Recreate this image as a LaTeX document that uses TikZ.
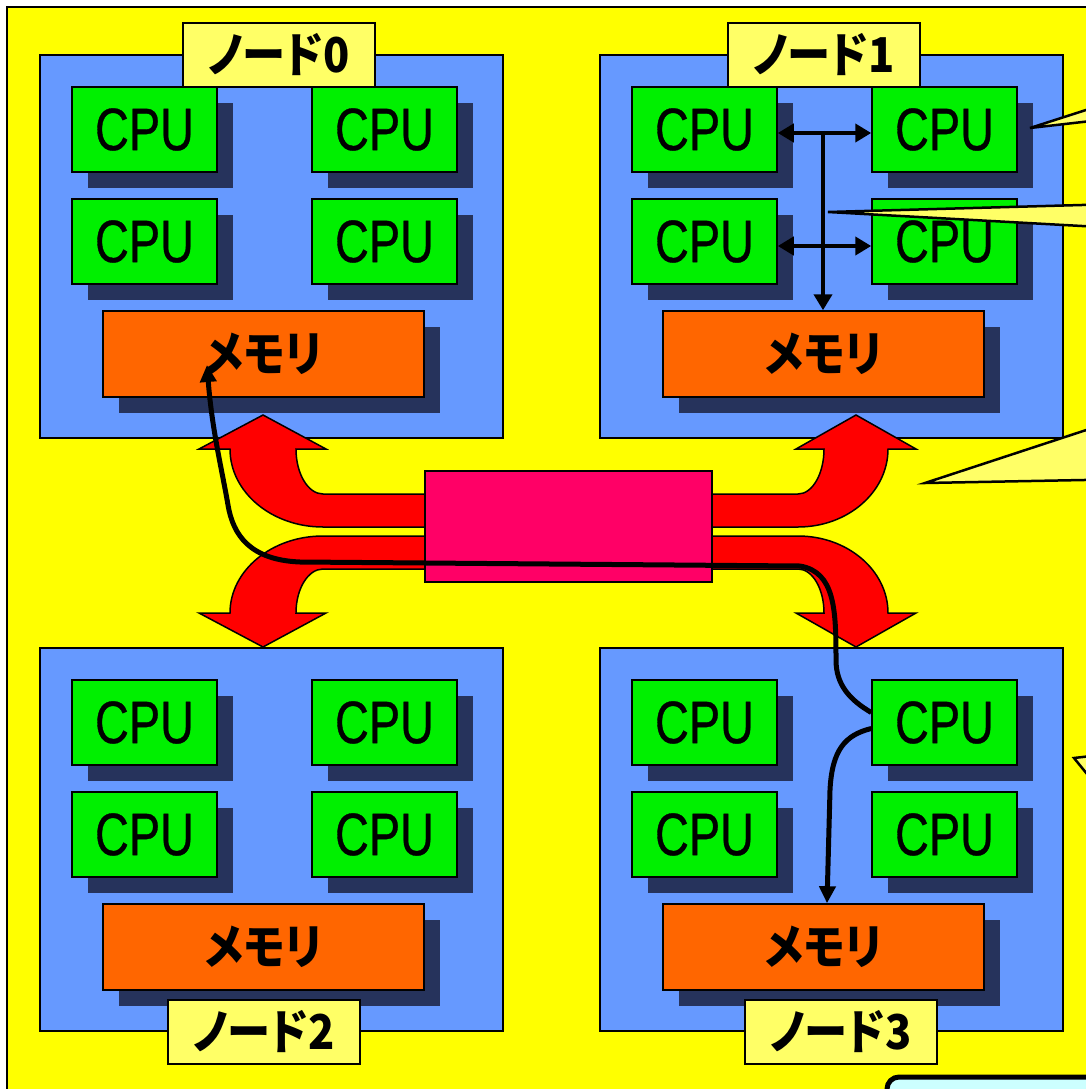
\documentclass[tikz,border=0pt]{standalone}
\usepackage{fontspec}
\newfontfamily\cpufont[FakeStretch=0.78,FakeBold=0.6]{Liberation Sans}
\newfontfamily\jpfont[RawFeature=+palt,FakeStretch=0.9]{Noto Sans CJK JP}
\usetikzlibrary{arrows.meta,calc}
\definecolor{bgyellow}{HTML}{FFFF00}
\definecolor{panelblue}{HTML}{6699FF}
\definecolor{cpugreen}{HTML}{00F000}
\definecolor{memorange}{HTML}{FF6600}
\definecolor{arrowred}{HTML}{FF0000}
\definecolor{hubpink}{HTML}{FF0066}
\definecolor{lightyellow}{HTML}{FFFF66}
\definecolor{shadowblue}{HTML}{26335C}
\definecolor{lightcyan}{HTML}{CCFFFF}
\begin{document}
\begin{tikzpicture}[x=1pt,y=-1pt,
  panel/.style={draw=black,line width=1.5pt,fill=panelblue,minimum width=463pt,minimum height=383pt,inner sep=0pt},
  cpubox/.style={draw=black,line width=1.5pt,fill=cpugreen,minimum width=145pt,minimum height=85pt,inner sep=0pt,font=\cpufont\fontsize{60}{60}\selectfont},
  membox/.style={draw=black,line width=1.5pt,fill=memorange,minimum width=321pt,minimum height=86pt,inner sep=0pt,font=\jpfont\bfseries\fontsize{48}{48}\selectfont},
  dropshade/.style={fill=shadowblue},
  nodelabel/.style={draw=black,line width=1.5pt,fill=lightyellow,minimum width=192pt,minimum height=64pt,inner sep=0pt,font=\jpfont\bfseries\fontsize{48}{48}\selectfont},
  bigarrow/.style={draw=black,line width=1.5pt,fill=arrowred},
  conn/.style={draw=black,line width=5pt},
  busline/.style={draw=black,line width=4.5pt},
  tip/.style={-{Triangle[length=17pt,width=16pt]}},
  bustip/.style={-{Triangle[length=16pt,width=18pt]}},
  callout/.style={draw=black,line width=2.5pt,fill=lightyellow,line join=miter}
]
\useasboundingbox (0,0) rectangle (1086,1089);
\fill[white] (0,0) rectangle (1086,1089);
\draw[fill=bgyellow,draw=black,line width=2pt] (7,7) rectangle (1110,1110);

% four nodes
\foreach \i/\ox/\oy in {0/0/0, 1/560/0, 2/0/593, 3/560/593} {
  \begin{scope}[shift={(\ox,\oy)}]
    \node[panel] (p\i) at (271.5,246.5) {};
    \foreach \j/\cx/\cy in {a/144.5/129.5, b/384.5/129.5, c/144.5/241.5, d/384.5/241.5} {
      \fill[dropshade] (\cx-72.5+16,\cy-42.5+16) rectangle (\cx+72.5+16,\cy+42.5+16);
      \node[cpubox] (c\i\j) at (\cx,\cy) {\raisebox{-3pt}{CPU}};
    }
    \fill[dropshade] (103+16,311+16) rectangle (424+16,397+16);
    \node[membox] (m\i) at (263.5,354) {\raisebox{-2pt}{メモリ}};
  \end{scope}
}

% red arrows
\draw[bigarrow] (440,494) -- (323,494) .. controls (308.1,494) and (296,473.9) .. (296,449)
  -- (326,449) -- (263,415) -- (199,449) -- (230,449)
  .. controls (230,492.1) and (271.6,527) .. (323,527) -- (440,527) -- cycle;
\draw[bigarrow] (440,569) -- (323,569) .. controls (308.1,569) and (296,588.7) .. (296,613)
  -- (326,613) -- (263,647) -- (199,613) -- (230,613)
  .. controls (230,570.5) and (271.6,536) .. (323,536) -- (440,536) -- cycle;
\draw[bigarrow] (700,494) -- (798,494) .. controls (812.4,494) and (824,473.9) .. (824,449)
  -- (796,449) -- (856,415) -- (916,449) -- (888,449)
  .. controls (888,492.1) and (847.7,527) .. (798,527) -- (700,527) -- cycle;
\draw[bigarrow] (700,569) -- (798,569) .. controls (812.4,569) and (824,588.7) .. (824,613)
  -- (796,613) -- (856,647) -- (916,613) -- (888,613)
  .. controls (888,570.5) and (847.7,536) .. (798,536) -- (700,536) -- cycle;

% hub
\node[draw=black,line width=1.5pt,fill=hubpink,minimum width=287pt,minimum height=111pt,inner sep=0pt] (hub) at (568.5,526.5) {};

% node labels
\node[nodelabel] (l0) at (279,55) {ノード0};
\node[nodelabel] (l1) at (824,55) {ノード1};
\node[nodelabel] (l2) at (264,1032) {ノード2};
\node[nodelabel] (l3) at (841,1032) {ノード3};

% node 1 internal bus
\draw[busline,{Triangle[length=16pt,width=18pt]}-{Triangle[length=16pt,width=18pt]}] ($(c1a.east)+(0,3.5)$) -- ($(c1b.west)+(0,3.5)$);
\draw[busline,{Triangle[length=16pt,width=18pt]}-{Triangle[length=16pt,width=18pt]}] ($(c1c.east)+(0,4.5)$) -- ($(c1d.west)+(0,4.5)$);
\coordinate (jt) at (823,131);
\draw[busline,bustip] (jt) -- (jt |- m1.north);

% remote access path
\draw[conn,tip] ($(c3b.west)+(0,-10)$) .. controls (850,700) and (836,685) .. (836,660)
  .. controls (836,610) and (835,572) .. (800,566) -- (300,562)
  .. controls (250,560) and (233,535) .. (228,505)
  .. controls (222,470) and (212,430) .. ($(m0.center)+(-56.5,11)$);
\draw[conn,tip] ($(c3b.west)+(0,6)$) .. controls (845,735) and (832,750) .. (830,790)
  -- ($(m3.north)+(3.5,0)$);

% callouts (cut off at right edge)
\draw[callout] (1030,128) -- (1100,105.5) -- (1100,120) -- cycle;
\draw[callout] (828,212) -- (1100,204.5) -- (1100,227) -- cycle;
\draw[callout] (925,483) -- (1100,425.5) -- (1100,479.7) -- cycle;
\draw[callout] (1074,758) -- (1100,755) -- (1100,790) -- cycle;
\draw[draw=black,line width=5pt,fill=lightcyan,rounded corners=12pt] (887,1077) rectangle (1130,1130);
\end{tikzpicture}
\end{document}
